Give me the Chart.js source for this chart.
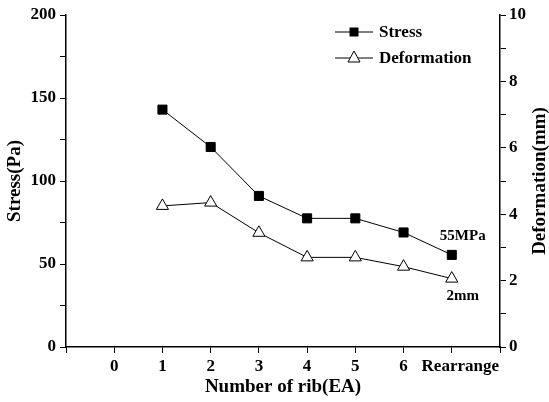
<!DOCTYPE html>
<html>
<head>
<meta charset="utf-8">
<script src="https://cdn.jsdelivr.net/npm/chart.js@4"></script>
<style>
  html, body { margin: 0; padding: 0; background: #fff; }
  #wrap { width: 549px; height: 402px; }
</style>
</head>
<body>
<div id="wrap"><canvas id="ribChart" width="549" height="402"></canvas></div>
<script>
// Datos del gráfico
const xPositions = [1, 2, 3, 4, 5, 6, 7];
const xTickLabels = ['0', '1', '2', '3', '4', '5', '6', '    Rearrange'];
const stressValues = [143, 120.5, 91, 77.5, 77.5, 69, 55.5];
const deformationValues = [4.25, 4.35, 3.44, 2.7, 2.7, 2.42, 2.06];
const seriesNames = ['Stress', 'Deformation'];
const endNotes = ['55MPa', '2mm'];
const rightTitle = 'Deformation(mm)';

const FONT = "'Liberation Serif', 'Times New Roman', serif";

const stressPoints = xPositions.map((x, i) => ({ x: x, y: stressValues[i] }));
const deformationPoints = xPositions.map((x, i) => ({ x: x, y: deformationValues[i] }));

// Leyenda dibujada a mano: línea — marcador — línea
const legendPlugin = {
    id: 'customLegend',
    afterDraw(chart) {
        const ctx = chart.ctx;
        const items = [
            { name: seriesNames[0], style: 'rect', y: 32 },
            { name: seriesNames[1], style: 'triangle', y: 58 }
        ];
        ctx.save();
        items.forEach(item => {
            const x0 = 335, x1 = 373, cx = 354;
            ctx.strokeStyle = '#000';
            ctx.lineWidth = 1;
            ctx.beginPath();
            ctx.moveTo(x0, item.y);
            ctx.lineTo(x1, item.y);
            ctx.stroke();
            if (item.style === 'rect') {
                ctx.fillStyle = '#000';
                ctx.fillRect(cx - 4.5, item.y - 4.5, 9, 9);
            } else {
                ctx.fillStyle = '#fff';
                ctx.beginPath();
                ctx.moveTo(cx, item.y - 7);
                ctx.lineTo(cx + 6, item.y + 4);
                ctx.lineTo(cx - 6, item.y + 4);
                ctx.closePath();
                ctx.fill();
                ctx.stroke();
            }
            ctx.fillStyle = '#000';
            ctx.font = 'bold 17px ' + FONT;
            ctx.textBaseline = 'middle';
            ctx.textAlign = 'left';
            ctx.fillText(item.name, 379, item.y + 1);
        });
        ctx.restore();
    }
};

// Notas al final de cada serie y título del eje derecho
const notesPlugin = {
    id: 'endNotes',
    afterDatasetsDraw(chart) {
        const ctx = chart.ctx;
        const xs = chart.scales.x;
        const last = xPositions.length - 1;
        const px = xs.getPixelForValue(xPositions[last]);
        const pyS = chart.scales.yStress.getPixelForValue(stressValues[last]);
        const pyD = chart.scales.yDef.getPixelForValue(deformationValues[last]);
        ctx.save();
        ctx.fillStyle = '#000';
        ctx.font = 'bold 15px ' + FONT;
        ctx.textAlign = 'center';
        ctx.textBaseline = 'middle';
        ctx.fillText(endNotes[0], px + 11, pyS - 19);
        ctx.fillText(endNotes[1], px + 11, pyD + 18);

        const area = chart.chartArea;
        ctx.translate(540, (area.top + area.bottom) / 2);
        ctx.rotate(-Math.PI / 2);
        ctx.font = 'bold 19px ' + FONT;
        ctx.fillText(rightTitle, 0, 0);
        ctx.restore();
    }
};

const ctx = document.getElementById('ribChart').getContext('2d');
const ribChart = new Chart(ctx, {
    type: 'line',
    data: {
        datasets: [{
            label: seriesNames[0],
            data: stressPoints,
            yAxisID: 'yStress',
            borderColor: '#000',
            borderWidth: 1,
            pointStyle: 'rect',
            pointRadius: 6.4,
            pointBackgroundColor: '#000',
            pointBorderColor: '#000',
            pointBorderWidth: 1,
            fill: false
        }, {
            label: seriesNames[1],
            data: deformationPoints,
            yAxisID: 'yDef',
            borderColor: '#000',
            borderWidth: 1,
            pointStyle: 'triangle',
            pointRadius: 7,
            pointBackgroundColor: '#fff',
            pointBorderColor: '#000',
            pointBorderWidth: 1,
            fill: false
        }]
    },
    options: {
        responsive: false,
        animation: false,
        layout: { padding: { top: 15, left: 0, right: 0, bottom: 0 } },
        plugins: {
            legend: { display: false },
            tooltip: { enabled: false }
        },
        scales: {
            x: {
                type: 'linear',
                min: -1,
                max: 8,
                afterFit: s => { s.height = 55; },
                border: { color: '#000', width: 1.5 },
                grid: { drawOnChartArea: false, tickLength: 6, color: '#000' },
                ticks: {
                    stepSize: 1,
                    color: '#000',
                    font: { family: FONT, size: 17, weight: 'bold' },
                    padding: 3,
                    maxRotation: 0,
                    autoSkip: false,
                    callback: v => (v >= 0 && v <= 7) ? xTickLabels[v] : ''
                },
                title: {
                    display: true,
                    text: 'Number of rib(EA)',
                    color: '#000',
                    font: { family: FONT, size: 19, weight: 'bold' },
                    padding: { top: 3 }
                }
            },
            yStress: {
                position: 'left',
                min: 0,
                max: 200,
                afterFit: s => { s.width = 66; },
                border: { color: '#000', width: 1.5 },
                grid: { drawOnChartArea: false, tickLength: 6, color: '#000' },
                ticks: {
                    stepSize: 25,
                    color: '#000',
                    font: { family: FONT, size: 17, weight: 'bold' },
                    padding: 4,
                    callback: v => v % 50 === 0 ? v : ''
                },
                title: {
                    display: true,
                    text: 'Stress(Pa)',
                    color: '#000',
                    font: { family: FONT, size: 19, weight: 'bold' },
                    padding: { bottom: 0 }
                }
            },
            yDef: {
                position: 'right',
                min: 0,
                max: 10,
                afterFit: s => { s.width = 49; },
                border: { color: '#000', width: 1.5 },
                grid: { drawOnChartArea: false, tickLength: 6, color: '#000' },
                ticks: {
                    stepSize: 1,
                    color: '#000',
                    font: { family: FONT, size: 17, weight: 'bold' },
                    padding: 3,
                    callback: v => v % 2 === 0 ? v : ''
                },
                title: { display: false }
            }
        }
    },
    plugins: [legendPlugin, notesPlugin]
});
</script>
</body>
</html>
